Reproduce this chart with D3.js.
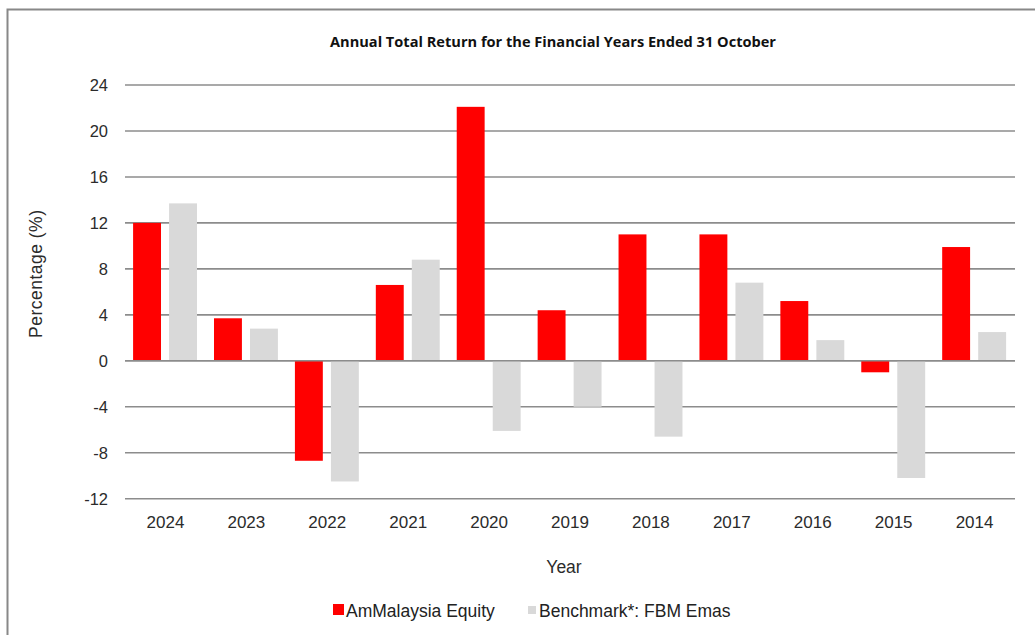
<!DOCTYPE html>
<html><head><meta charset="utf-8">
<script src="https://cdn.jsdelivr.net/npm/d3@7"></script>
<style>body{margin:0;background:#fff}svg{display:block}</style>
</head><body>
<script>
const years = ["2024","2023","2022","2021","2020","2019","2018","2017","2016","2015","2014"];
const fundValues = [12.0, 3.7, -8.7, 6.6, 22.1, 4.4, 11.0, 11.0, 5.2, -1.0, 9.9];
const benchValues = [13.7, 2.8, -10.5, 8.8, -6.1, -4.0, -6.6, 6.8, 1.8, -10.2, 2.5];
const yTicks = [24, 20, 16, 12, 8, 4, 0, -4, -8, -12];
const seriesNames = ["AmMalaysia Equity", "Benchmark*: FBM Emas"];
const seriesColors = ["#ff0000", "#d9d9d9"];

const W = 1035, H = 635;
const svg = d3.select("body").append("svg").attr("width", W).attr("height", H);

// outer frame
svg.append("path").attr("d", `M7.5,${H} V9.5 H${W}`).attr("fill","none").attr("stroke","#888").attr("stroke-width",2);

const x0 = 125, x1 = 1015, yTop = 85, yBot = 498.7;
const x = d3.scaleBand().domain(years).range([x0, x1]).padding(0);
const y = d3.scaleLinear().domain([-12, 24]).range([yBot, yTop]);

const font = "Liberation Sans, Arial, sans-serif";

// gridlines
svg.append("g").selectAll("line").data(yTicks).join("line")
  .attr("x1", x0).attr("x2", x1)
  .attr("y1", d => y(d)).attr("y2", d => y(d))
  .attr("stroke", "#8c8c8c").attr("stroke-width", 1.6);

// y tick labels
svg.append("g").selectAll("text").data(yTicks).join("text")
  .attr("x", 108).attr("y", d => y(d)).attr("dy", "0.36em")
  .attr("text-anchor", "end")
  .attr("font-family", font).attr("font-size", 16.5)
  .attr("fill", "#2b2b2b").text(d => d);

const bw = x.bandwidth();
const barW = bw * 0.345;
const series = [fundValues, benchValues];
const offsets = [0.1, 0.545];
series.forEach((vals, si) => {
  svg.append("g").selectAll("rect").data(vals).join("rect")
    .attr("x", (d, i) => x(years[i]) + bw * offsets[si])
    .attr("width", barW)
    .attr("y", d => y(Math.max(0, d)))
    .attr("height", d => Math.abs(y(d) - y(0)))
    .attr("fill", seriesColors[si]);
});

// zero line on top
svg.append("line").attr("x1", x0).attr("x2", x1).attr("y1", y(0)).attr("y2", y(0))
  .attr("stroke", "#8c8c8c").attr("stroke-width", 1.6);

// x tick labels
svg.append("g").selectAll("text").data(years).join("text")
  .attr("x", d => x(d) + bw * 0.5).attr("y", 528)
  .attr("text-anchor", "middle")
  .attr("font-family", font).attr("font-size", 17)
  .attr("fill", "#2b2b2b").text(d => d);

// title
svg.append("text").attr("x", 553).attr("y", 47).attr("text-anchor", "middle")
  .attr("font-family", "Open Sans, Liberation Sans, sans-serif").attr("font-weight", "bold")
  .attr("font-size", 13.5).attr("fill", "#111")
  .attr("textLength", 446).attr("lengthAdjust", "spacingAndGlyphs")
  .text("Annual Total Return for the Financial Years Ended 31 October");

// axis titles
svg.append("text").attr("transform", "translate(42,274) rotate(-90)")
  .attr("text-anchor", "middle")
  .attr("font-family", font).attr("font-size", 17.5)
  .attr("textLength", 128).attr("lengthAdjust", "spacing")
  .attr("fill", "#2b2b2b").text("Percentage (%)");
svg.append("text").attr("x", 564).attr("y", 573).attr("text-anchor", "middle")
  .attr("font-family", font).attr("font-size", 17.5)
  .attr("fill", "#2b2b2b").text("Year");

// legend
const legX = [333, 527];
const lg = svg.append("g").selectAll("g").data(seriesNames).join("g")
  .attr("transform", (d, i) => `translate(${legX[i]},0)`);
lg.append("rect").attr("x", (d,i)=> i===0?0:1).attr("y", (d,i)=> i===0?604:606)
  .attr("width", (d,i)=> i===0?11:8).attr("height", (d,i)=> i===0?11:8)
  .attr("fill", (d, i) => seriesColors[i]);
lg.append("text").attr("x", (d,i)=> i===0?13:12).attr("y", 617)
  .attr("font-family", font).attr("font-size", 17.5)
  .attr("fill", "#222").text(d => d);
</script>
</body></html>
